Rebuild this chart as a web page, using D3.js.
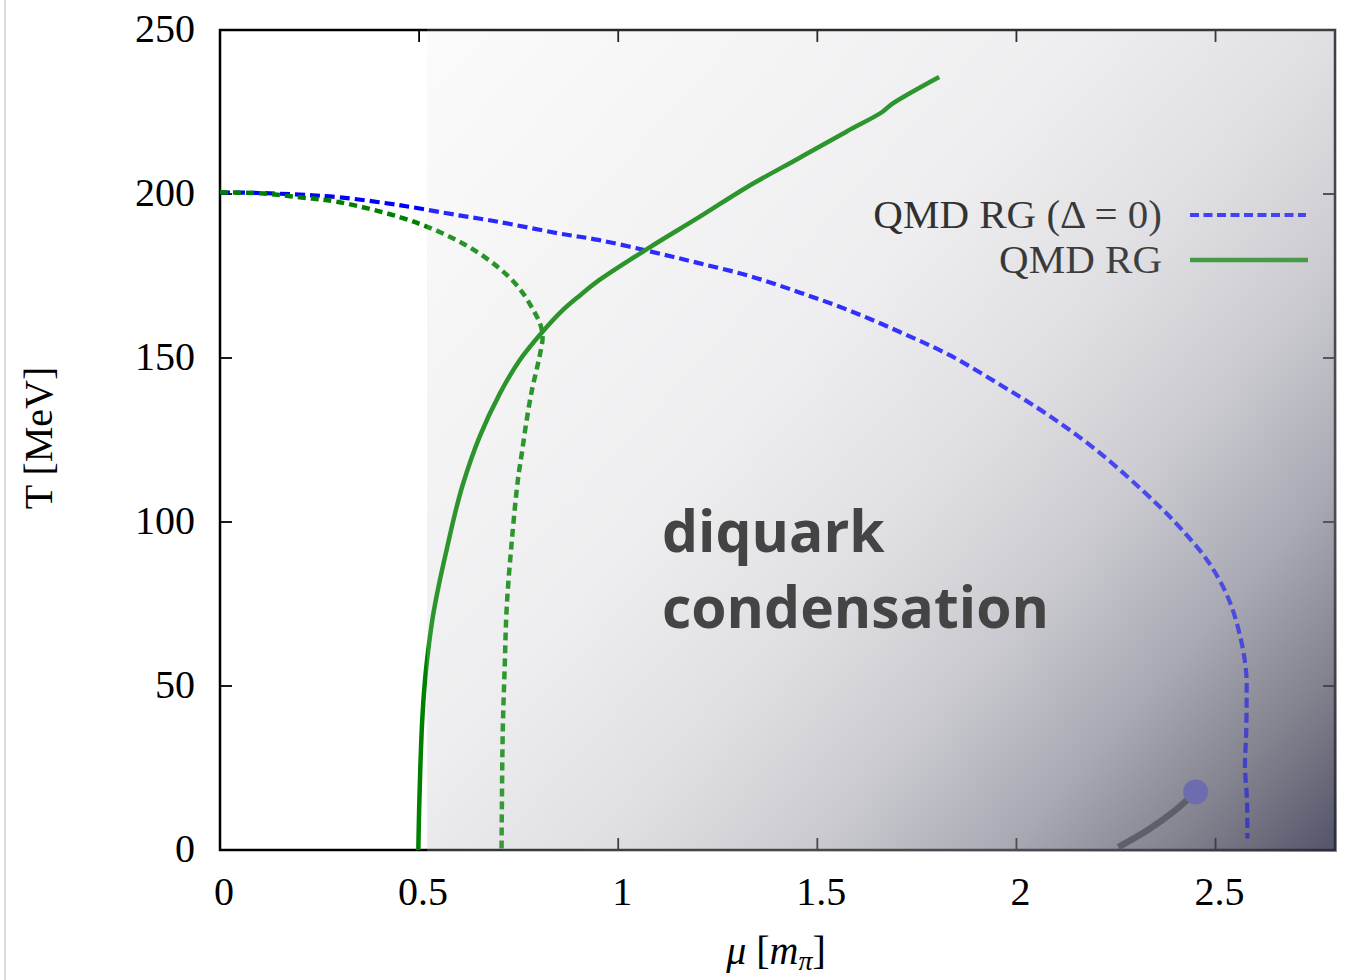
<!DOCTYPE html>
<html>
<head>
<meta charset="utf-8">
<script src="https://cdn.jsdelivr.net/npm/d3@7"></script>
<style>
  html, body { margin: 0; padding: 0; background: #fff; }
  svg { display: block; }
</style>
</head>
<body>
<svg id="chart" width="1347" height="980"></svg>
<script>
// Phase boundary of two-colour QCD in the quark-meson-diquark model (RG flow)

// Critical line without diquark condensate (Δ = 0)
const blueMu = [0, 0.1, 0.2, 0.3, 0.45, 0.6, 0.7, 0.85, 0.95, 1.08, 1.2, 1.33, 1.455, 1.58, 1.706, 1.83, 1.957, 2.08, 2.21, 2.35, 2.416, 2.484, 2.534, 2.564, 2.577, 2.578, 2.577, 2.574, 2.579, 2.58];
const blueT  = [200.5, 200.3, 199.8, 199, 196.6, 193.5, 191.5, 188, 186, 182.5, 179, 175, 170, 164.5, 158, 151, 142, 132.6, 121, 105.8, 97.6, 87.5, 76.2, 64, 54, 45.7, 35.7, 25.3, 15.2, 3.5];

// Chiral crossover line with diquark condensation (dashed green)
const chiralMu = [0, 0.1, 0.2, 0.3, 0.45, 0.55, 0.63, 0.70, 0.75, 0.785, 0.805, 0.81, 0.805, 0.798, 0.783, 0.770, 0.758, 0.748, 0.733, 0.72, 0.715, 0.71, 0.708, 0.707];
const chiralT  = [200.5, 200.2, 199, 197.5, 193, 188.5, 183.5, 177.5, 171.5, 165, 160, 156, 152, 148, 140, 131, 121, 112.8, 94.5, 74, 56, 36, 15, 0];

// Diquark condensation boundary (solid green)
const diquarkMu = [0.498, 0.5, 0.503, 0.508, 0.515, 0.524, 0.535, 0.55, 0.57, 0.59, 0.61, 0.652, 0.702, 0.753, 0.81, 0.86, 0.903, 0.953, 1.08, 1.204, 1.322, 1.455, 1.573, 1.663, 1.688, 1.806];
const diquarkT  = [0, 12, 25, 40, 52, 62, 71.5, 81, 92, 102.5, 111.5, 126, 139, 149.4, 158, 164.5, 169, 173.8, 183.8, 193, 202, 211, 219, 225, 227.5, 235.7];

// First-order segment ending in a critical point
const firstOrderMu = [2.256, 2.33, 2.40, 2.45];
const firstOrderT  = [0.9, 6.1, 12.2, 17.7];
const criticalPoint = { mu: 2.45, T: 17.7 };

const xTicks = [0, 0.5, 1, 1.5, 2, 2.5];
const yTicks = [0, 50, 100, 150, 200, 250];
const legendLabels = ["QMD RG (\u0394 = 0)", "QMD RG"];
const regionLabel = ["diquark", "condensation"];

const svg = d3.select("#chart");
const margin = { left: 220, right: 12, top: 30, bottom: 130 };
const W = 1347, H = 980;

const x = d3.scaleLinear().domain([0, 2.8]).range([margin.left, W - margin.right]);
const y = d3.scaleLinear().domain([0, 250]).range([H - margin.bottom, margin.top]);

const x0 = x(0), x1 = x(2.8), yTop = y(250), yBot = y(0);

// page edge
svg.append("line").attr("x1", 5).attr("x2", 5).attr("y1", 0).attr("y2", H)
  .attr("stroke", "#dcdcdc").attr("stroke-width", 2);

const defs = svg.append("defs");
defs.append("clipPath").attr("id", "plot-clip")
  .append("rect").attr("x", x0).attr("y", yTop).attr("width", x1 - x0).attr("height", yBot - yTop);

// shading of the condensed phase
const shadeStart = 0.52;
const shadeStops = [
  { o: 0.0, c: "#fbfbfb", a: 0.14 },
  { o: 0.40, c: "#eeeef0", a: 0.2 },
  { o: 0.55, c: "#e0e0e4", a: 0.28 },
  { o: 0.68, c: "#cacad0", a: 0.36 },
  { o: 0.80, c: "#a9a9b4", a: 0.45 },
  { o: 0.90, c: "#83838f", a: 0.5 },
  { o: 1.0, c: "#54546a", a: 0.55 }
];
function makeGrad(id, useAlpha) {
  const g = defs.append("linearGradient").attr("id", id)
    .attr("gradientUnits", "userSpaceOnUse")
    .attr("x1", x(shadeStart)).attr("y1", yTop).attr("x2", x1).attr("y2", yBot);
  shadeStops.forEach(s => g.append("stop").attr("offset", s.o)
    .attr("stop-color", s.c).attr("stop-opacity", useAlpha ? s.a : 1));
}
makeGrad("shade", false);
makeGrad("shade-veil", true);

svg.append("rect").attr("x", x(shadeStart)).attr("y", yTop)
  .attr("width", x1 - x(shadeStart)).attr("height", yBot - yTop)
  .attr("fill", "url(#shade)");

// frame and ticks
const frame = svg.append("g");
frame.append("rect").attr("x", x0).attr("y", yTop).attr("width", x1 - x0).attr("height", yBot - yTop)
  .attr("fill", "none").attr("stroke", "#000").attr("stroke-width", 2.5);
const tickLen = 12;
xTicks.filter(d => d > 0).forEach(d => {
  frame.append("line").attr("x1", x(d)).attr("x2", x(d)).attr("y1", yBot).attr("y2", yBot - tickLen)
    .attr("stroke", "#000").attr("stroke-width", 1.8);
  frame.append("line").attr("x1", x(d)).attr("x2", x(d)).attr("y1", yTop).attr("y2", yTop + tickLen)
    .attr("stroke", "#000").attr("stroke-width", 1.8);
});
yTicks.filter(d => d > 0 && d < 250).forEach(d => {
  frame.append("line").attr("x1", x0).attr("x2", x0 + tickLen).attr("y1", y(d)).attr("y2", y(d))
    .attr("stroke", "#000").attr("stroke-width", 1.8);
  frame.append("line").attr("x1", x1).attr("x2", x1 - tickLen).attr("y1", y(d)).attr("y2", y(d))
    .attr("stroke", "#000").attr("stroke-width", 1.8);
});

// tick labels
const serif = "'Liberation Serif', 'Times New Roman', serif";
svg.append("g").selectAll("text").data(xTicks).join("text")
  .attr("x", d => x(d) + 4).attr("y", 905)
  .attr("text-anchor", "middle").attr("font-family", serif).attr("font-size", 40)
  .attr("fill", "#000").text(d => d3.format("~g")(d));
svg.append("g").selectAll("text").data(yTicks).join("text")
  .attr("x", 195).attr("y", d => y(d) + 12)
  .attr("text-anchor", "end").attr("font-family", serif).attr("font-size", 40)
  .attr("fill", "#000").text(d => d);

// axis titles
const xt = svg.append("text").attr("x", 776).attr("y", 964).attr("text-anchor", "middle")
  .attr("font-family", serif).attr("font-size", 40).attr("fill", "#000");
xt.append("tspan").attr("font-style", "italic").text("\u03bc");
xt.append("tspan").text(" [");
xt.append("tspan").attr("font-style", "italic").text("m");
xt.append("tspan").attr("font-style", "italic").attr("font-size", 28).attr("dy", 6).text("\u03c0");
xt.append("tspan").attr("dy", -6).text("]");

svg.append("text").attr("transform", "translate(52,438) rotate(-90)")
  .attr("text-anchor", "middle").attr("font-family", serif).attr("font-size", 40)
  .attr("fill", "#000").text("T [MeV]");

// curves
const line = d3.line().x(d => x(d[0])).y(d => y(d[1])).curve(d3.curveCatmullRom.alpha(0.5));
const curves = svg.append("g").attr("clip-path", "url(#plot-clip)");
curves.append("path").datum(d3.zip(blueMu, blueT)).attr("d", line)
  .attr("fill", "none").attr("stroke", "#0000ff").attr("stroke-width", 4.2)
  .attr("stroke-dasharray", "10,5");
curves.append("path").datum(d3.zip(chiralMu, chiralT)).attr("d", line)
  .attr("fill", "none").attr("stroke", "#008000").attr("stroke-width", 4.5)
  .attr("stroke-dasharray", "8,5");
curves.append("path").datum(d3.zip(diquarkMu, diquarkT)).attr("d", line)
  .attr("fill", "none").attr("stroke", "#008000").attr("stroke-width", 4.5);

// legend
const legend = svg.append("g");
const legY = [215, 260];
legendLabels.forEach((t, i) => {
  legend.append("text").attr("x", 1162).attr("y", legY[i] + 13).attr("text-anchor", "end")
    .attr("font-family", serif).attr("font-size", 41).attr("fill", "#000").text(t);
});
legend.append("line").attr("x1", 1190).attr("x2", 1306).attr("y1", legY[0]).attr("y2", legY[0])
  .attr("stroke", "#0000ff").attr("stroke-width", 4.2).attr("stroke-dasharray", "9,4.5");
legend.append("line").attr("x1", 1190).attr("x2", 1308).attr("y1", legY[1]).attr("y2", legY[1])
  .attr("stroke", "#008000").attr("stroke-width", 4.5);

// veil over the condensed phase
svg.append("rect").attr("x", x(shadeStart)).attr("y", yTop - 2)
  .attr("width", x1 - x(shadeStart) + 2).attr("height", yBot - yTop + 4)
  .attr("fill", "url(#shade-veil)");

// first-order line and critical endpoint
svg.append("path").datum(d3.zip(firstOrderMu, firstOrderT)).attr("d", line.curve(d3.curveCatmullRom))
  .attr("fill", "none").attr("stroke", "#5f5f69").attr("stroke-width", 6.5);
svg.append("circle").attr("cx", x(criticalPoint.mu)).attr("cy", y(criticalPoint.T)).attr("r", 12.5)
  .attr("fill", "#6b6daf");

// region label
const region = svg.append("text").attr("font-family", "'Open Sans', sans-serif").attr("font-weight", 700)
  .attr("font-size", 57).attr("fill", "#444");
regionLabel.forEach((t, i) => {
  region.append("tspan").attr("x", 662).attr("y", 552 + i * 76).text(t);
});
</script>
</body>
</html>
